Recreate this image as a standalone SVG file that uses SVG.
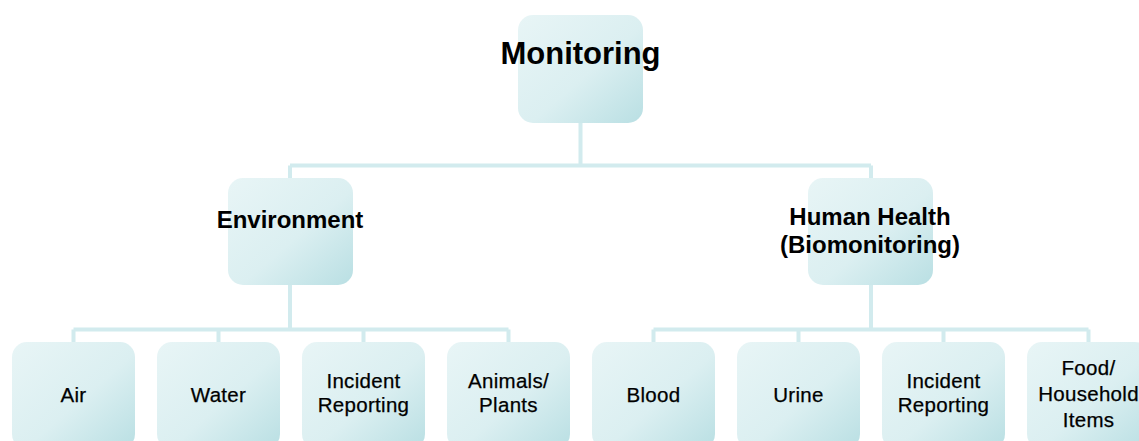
<svg xmlns="http://www.w3.org/2000/svg" width="1139" height="441" viewBox="0 0 1139 441">
<defs>
<linearGradient id="g" x1="0" y1="0" x2="1" y2="1">
<stop offset="0" stop-color="#e8f5f6"/>
<stop offset="0.55" stop-color="#dbeff1"/>
<stop offset="1" stop-color="#b9dfe3"/>
</linearGradient>
<style>
.box{fill:url(#g);}
.ln{stroke:#d2ebee;stroke-width:4;fill:none;}
.t{font-family:"Liberation Sans",Arial,sans-serif;fill:#000;text-anchor:middle;}
.b{font-weight:bold;font-size:24px;}
.m{font-weight:bold;font-size:31px;}
.s{font-size:20.5px;letter-spacing:0.3px;stroke:#000;stroke-width:0.25px;}
</style>
</defs>
<rect width="1139" height="441" fill="#ffffff"/>
<g id="connectors">
<path class="ln" d="M580.5 123 V165.5 M290 165.5 H871 M290 165.5 V178 M871 165.5 V178"/>
<path class="ln" d="M290 285 V329.5 M73.5 329.5 H508.5 M73.5 329.5 V342 M218.5 329.5 V342 M363.5 329.5 V342 M508.5 329.5 V342"/>
<path class="ln" d="M871 285 V329.5 M653.5 329.5 H1088.5 M653.5 329.5 V342 M798.5 329.5 V342 M943.5 329.5 V342 M1088.5 329.5 V342"/>
</g>
<g id="monitoring">
<rect class="box" x="518" y="15" width="125" height="108" rx="15"/>
<text class="t m" x="580.5" y="64">Monitoring</text>
</g>
<g id="environment">
<rect class="box" x="228" y="178" width="125" height="107" rx="15"/>
<text class="t b" x="290" y="228">Environment</text>
</g>
<g id="human-health">
<rect class="box" x="808" y="178" width="125" height="107" rx="15"/>
<text class="t b" x="870" y="225">Human Health</text>
<text class="t b" x="870" y="253">(Biomonitoring)</text>
</g>
<g id="air">
<rect class="box" x="12" y="342" width="123" height="107" rx="15"/>
<text class="t s" x="73.5" y="402">Air</text>
</g>
<g id="water">
<rect class="box" x="157" y="342" width="123" height="107" rx="15"/>
<text class="t s" x="218.5" y="402">Water</text>
</g>
<g id="incident-env">
<rect class="box" x="302" y="342" width="123" height="107" rx="15"/>
<text class="t s" x="363.5" y="388">Incident</text>
<text class="t s" x="363.5" y="412">Reporting</text>
</g>
<g id="animals">
<rect class="box" x="447" y="342" width="123" height="107" rx="15"/>
<text class="t s" x="508.5" y="388">Animals/</text>
<text class="t s" x="508.5" y="412">Plants</text>
</g>
<g id="blood">
<rect class="box" x="592" y="342" width="123" height="107" rx="15"/>
<text class="t s" x="653.5" y="402">Blood</text>
</g>
<g id="urine">
<rect class="box" x="737" y="342" width="123" height="107" rx="15"/>
<text class="t s" x="798.5" y="402">Urine</text>
</g>
<g id="incident-health">
<rect class="box" x="882" y="342" width="123" height="107" rx="15"/>
<text class="t s" x="943.5" y="388">Incident</text>
<text class="t s" x="943.5" y="412">Reporting</text>
</g>
<g id="food">
<rect class="box" x="1027" y="342" width="123" height="107" rx="15"/>
<text class="t s" x="1088.5" y="375">Food/</text>
<text class="t s" x="1088.5" y="401">Household</text>
<text class="t s" x="1088.5" y="427">Items</text>
</g>
</svg>
